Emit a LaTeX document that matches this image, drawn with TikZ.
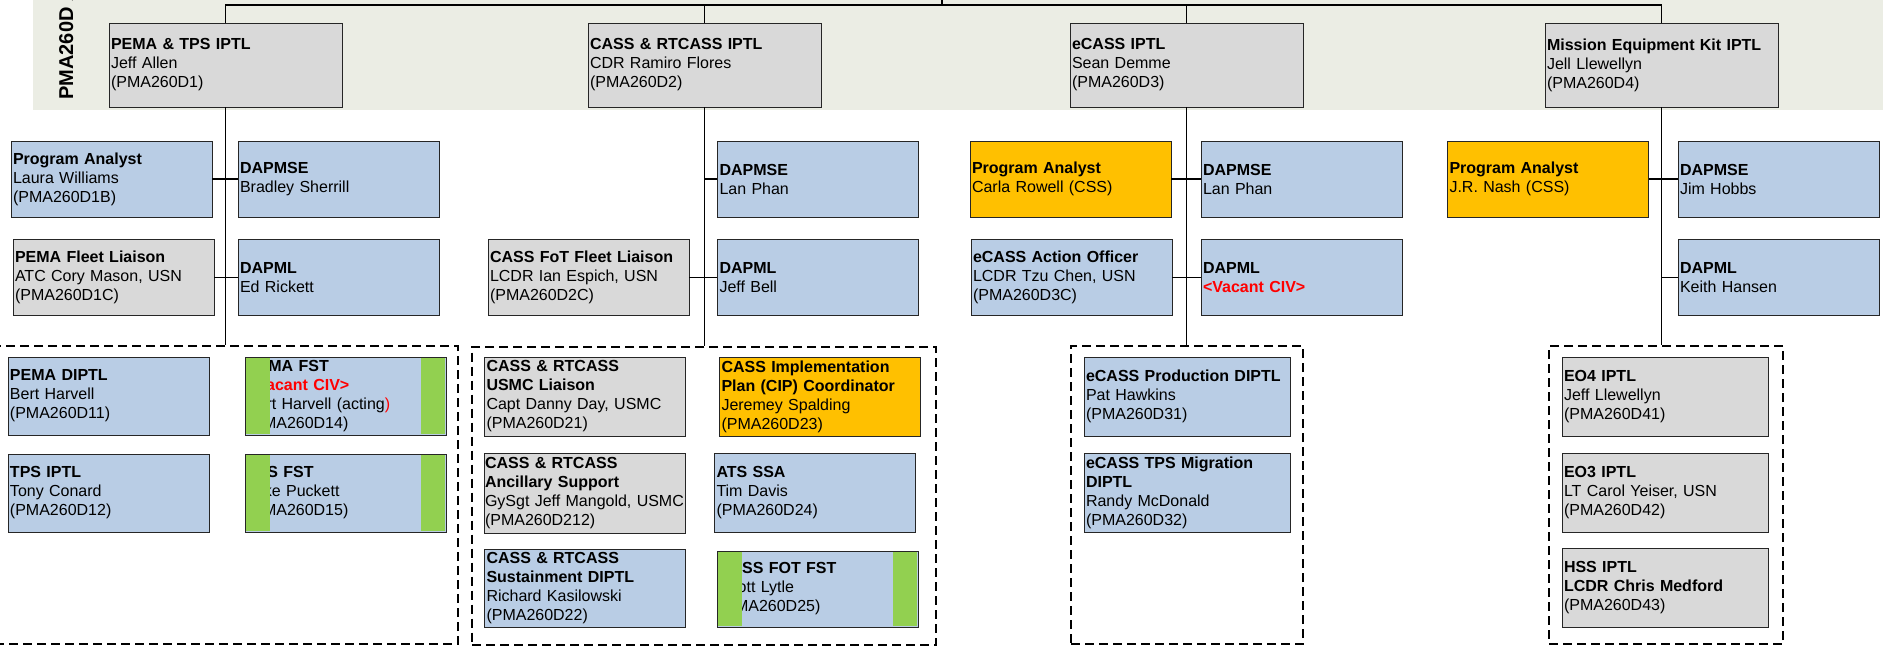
\documentclass[tikz,border=0pt]{standalone}
\usepackage{fontspec}
\setmainfont{Liberation Sans}
\usetikzlibrary{positioning}

\definecolor{bandgray}{HTML}{EBEDE4}
\definecolor{unitgray}{HTML}{D9D9D9}
\definecolor{unitblue}{HTML}{B9CDE5}
\definecolor{unitgold}{HTML}{FFC000}
\definecolor{fstgreen}{HTML}{92D050}

\tikzset{
  unit/.style={draw=black!85, line width=0.4pt, rectangle, align=left,
    inner xsep=1pt, inner ysep=0pt, font=\fontsize{8}{9.5}\selectfont},
  iptl/.style={unit, fill=unitgray, text width=114.5pt, minimum height=42pt},
  staff/.style={unit, text width=98.5pt, minimum height=38pt},
  sub/.style={unit, text width=101pt, minimum height=39.5pt},
  bluebox/.style={fill=unitblue},
  graybox/.style={fill=unitgray},
  goldbox/.style={fill=unitgold},
  group/.style={draw, line width=1pt, dash pattern=on 4.5pt off 2.5pt,
    inner sep=0pt, minimum height=149pt},
  link/.style={draw, line width=0.8pt},
}

\begin{document}
\begin{tikzpicture}[x=0.5pt, y=-0.5pt]

    \useasboundingbox (0,0) rectangle (1883,650);
    \fill[bandgray] (33,0) rectangle (1883,110);

    \node[rotate=90, anchor=base west, inner sep=0pt,
          font=\fontsize{10}{12}\selectfont\bfseries] (office) at (73,100) {PMA260D A};

    % IPTL leads
    \node[iptl] (d1) at (225.5,65) {\textbf{PEMA \& TPS IPTL}\\Jeff Allen\\(PMA260D1)};
    \node[iptl] (d2) at (704.5,65) {\textbf{CASS \& RTCASS IPTL}\\CDR Ramiro Flores\\(PMA260D2)};
    \node[iptl] (d3) at (1186.5,65) {\textbf{eCASS IPTL}\\Sean Demme\\(PMA260D3)};
    \node[iptl] (d4) at (1661.5,65) {\textbf{Mission Equipment Kit IPTL}\\Jell Llewellyn\\(PMA260D4)};

    % staff, first row
    \node[staff, bluebox] (pa1) at (111.5,179) {\textbf{Program Analyst}\\Laura Williams\\(PMA260D1B)};
    \node[staff, bluebox] (mse1) at (338.5,179) {\textbf{DAPMSE}\\Bradley Sherrill};
    \node[staff, bluebox] (mse2) at (818,179) {\textbf{DAPMSE}\\Lan Phan};
    \node[staff, goldbox] (pa3) at (1070.5,179) {\textbf{Program Analyst}\\Carla Rowell (CSS)};
    \node[staff, bluebox] (mse3) at (1301.5,179) {\textbf{DAPMSE}\\Lan Phan};
    \node[staff, goldbox] (pa4) at (1548,179) {\textbf{Program Analyst}\\J.R. Nash (CSS)};
    \node[staff, bluebox] (mse4) at (1778.5,179) {\textbf{DAPMSE}\\Jim Hobbs};

    % staff, second row
    \node[staff, graybox] (fl1) at (113.5,277.5) {\textbf{PEMA Fleet Liaison}\\ATC Cory Mason, USN\\(PMA260D1C)};
    \node[staff, bluebox] (ml1) at (338.5,277.5) {\textbf{DAPML}\\Ed Rickett};
    \node[staff, graybox] (fl2) at (588.5,277.5) {\textbf{CASS FoT Fleet Liaison}\\LCDR Ian Espich, USN\\(PMA260D2C)};
    \node[staff, bluebox] (ml2) at (818,277.5) {\textbf{DAPML}\\Jeff Bell};
    \node[staff, bluebox] (ao3) at (1071.5,277.5) {\textbf{eCASS Action Officer}\\LCDR Tzu Chen, USN\\(PMA260D3C)};
    \node[staff, bluebox] (ml3) at (1301.5,277.5) {\textbf{DAPML}\\\textcolor{red}{\textbf{<Vacant CIV>}}};
    \node[staff, bluebox] (ml4) at (1778.5,277.5) {\textbf{DAPML}\\Keith Hansen};

    % dashed groups
    \node[group, minimum width=231.5pt] (g1) at (226.5,495) {};
    \node[group, minimum width=232pt] (g2) at (704,495.5) {};
    \node[group, minimum width=116pt] (g3) at (1187,495) {};
    \node[group, minimum width=117pt] (g4) at (1666,495) {};

    % PEMA & TPS teams
    \node[staff, bluebox, minimum height=39pt] (p11) at (108.5,396) {\textbf{PEMA DIPTL}\\Bert Harvell\\(PMA260D11)};
    \node[staff, bluebox, minimum height=39pt] (p14) at (345.5,396) {\textbf{PEMA FST}\\\textcolor{red}{\textbf{<Vacant CIV>}}\\Bert Harvell (acting\textcolor{red}{)}\\(PMA260D14)};
    \node[staff, bluebox, minimum height=39pt] (p12) at (108.5,493) {\textbf{TPS IPTL}\\Tony Conard\\(PMA260D12)};
    \node[staff, bluebox, minimum height=39pt] (p15) at (345.5,493) {\textbf{TPS FST}\\Mike Puckett\\(PMA260D15)};

    % CASS & RTCASS teams
    \node[staff, graybox, minimum height=39.5pt] (c21) at (585,396.5) {\textbf{CASS \& RTCASS}\\\textbf{USMC Liaison}\\Capt Danny Day, USMC\\(PMA260D21)};
    \node[staff, goldbox, minimum height=39.5pt] (c23) at (820,396.5) {\textbf{CASS Implementation}\\\textbf{Plan (CIP) Coordinator}\\Jeremey Spalding\\(PMA260D23)};
    \node[staff, graybox, minimum height=40pt, text width=100pt, inner xsep=0.25pt] (c212) at (585,493) {\textbf{CASS \& RTCASS}\\\textbf{Ancillary Support}\\GySgt Jeff Mangold, USMC\\(PMA260D212)};
    \node[staff, bluebox, minimum height=39.5pt] (c24) at (815,492.5) {\textbf{ATS SSA}\\Tim Davis\\(PMA260D24)};
    \node[staff, bluebox, minimum height=39pt] (c22) at (585,588) {\textbf{CASS \& RTCASS}\\\textbf{Sustainment DIPTL}\\Richard Kasilowski\\(PMA260D22)};
    \node[staff, bluebox, minimum height=38pt] (c25) at (817.5,589) {\textbf{CASS FOT FST}\\Scott Lytle\\(PMA260D25)};

    % eCASS teams
    \node[sub, bluebox] (e31) at (1187,396.5) {\textbf{eCASS Production DIPTL}\\Pat Hawkins\\(PMA260D31)};
    \node[sub, bluebox] (e32) at (1187,493) {\textbf{eCASS TPS Migration}\\\textbf{DIPTL}\\Randy McDonald\\(PMA260D32)};

    % Mission Equipment Kit teams
    \node[sub, graybox] (m41) at (1665,396.5) {\textbf{EO4 IPTL}\\Jeff Llewellyn\\(PMA260D41)};
    \node[sub, graybox] (m42) at (1665,493) {\textbf{EO3 IPTL}\\LT Carol Yeiser, USN\\(PMA260D42)};
    \node[sub, graybox] (m43) at (1665,588) {\textbf{HSS IPTL}\\\textbf{LCDR Chris Medford}\\(PMA260D43)};

    % field support team bars
    \foreach \f in {p14,p15,c25} {
        \fill[fstgreen] ([xshift=0.5pt,yshift=-0.5pt]\f.north west) rectangle ([xshift=12.5pt,yshift=0.5pt]\f.south west);
        \fill[fstgreen] ([xshift=-12.5pt,yshift=-0.5pt]\f.north east) rectangle ([xshift=-0.5pt,yshift=0.5pt]\f.south east);
    }

    % connectors
    \coordinate (bus) at (942,5);
    \coordinate (root) at (942,-20);
    \path[link] (root) -- (bus)
        (d1.north) |- (bus) -| (d4.north)
        (d2.north) -- (d2.north |- bus)
        (d3.north) -- (d3.north |- bus);

    \path[link] (d1.south) -- (d1.south |- g1.north)
        (d2.south) -- (d2.south |- g2.north)
        (d3.south) -- (d3.south |- g3.north)
        (d4.south) -- (d4.south |- g4.north);

    \path[link] (pa1) -- (mse1)
        (fl1) -- (ml1)
        (mse2.west) -- (mse2.west -| d2.south)
        (fl2) -- (ml2)
        (pa3) -- (mse3)
        (ao3) -- (ml3)
        (pa4) -- (mse4)
        (ml4.west) -- (ml4.west -| d4.south);

\end{tikzpicture}
\end{document}
